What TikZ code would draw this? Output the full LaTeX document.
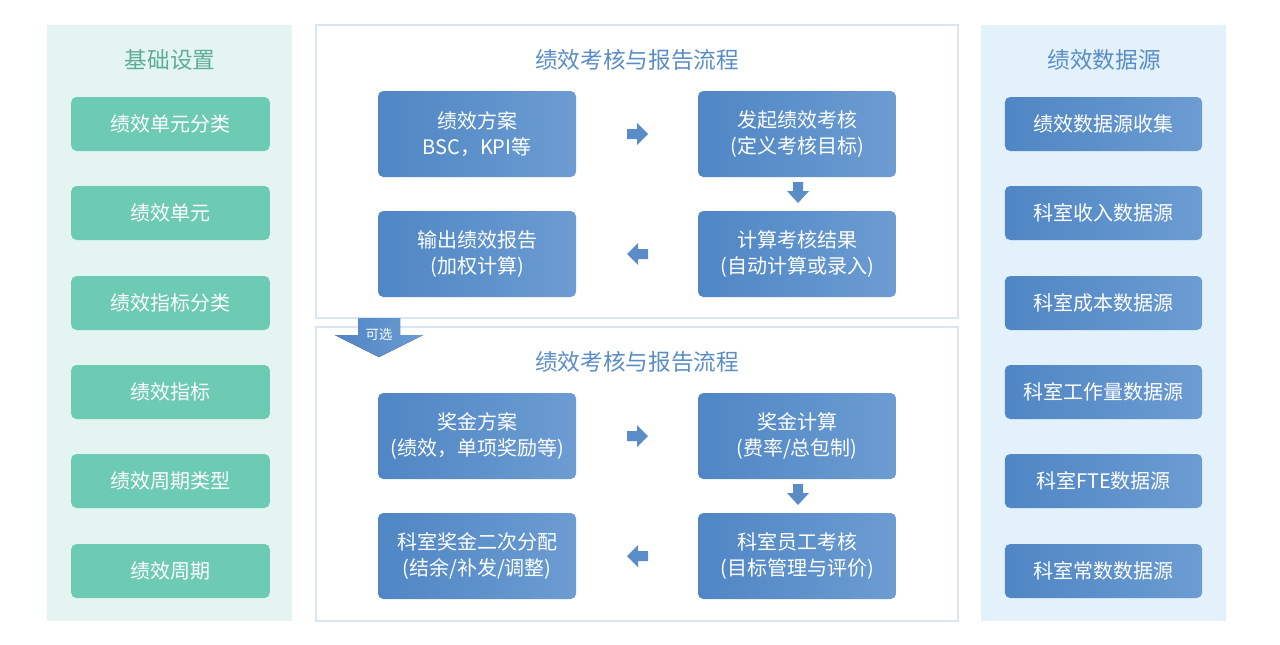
\documentclass[tikz,border=0pt]{standalone}
\usepackage{fontspec}
\newfontfamily\cjk{Noto Sans CJK SC}[Scale=1]
\begin{document}
\begin{tikzpicture}[x=0.75pt,y=-0.75pt,font=\cjk,
 gbox/.style={fill=grn,rounded corners=4pt,text=white,font=\cjk\fontsize{15}{18}\selectfont},
 bbox/.style={left color=bl1,right color=bl2,rounded corners=4pt,text=white,font=\cjk\fontsize{15}{20}\selectfont,align=center},
 ttl/.style={font=\cjk\fontsize{17}{20}\selectfont},
 sarrow/.style={fill=arr}]
\definecolor{grn}{HTML}{6CCBB2}
\definecolor{bl1}{HTML}{4F86C4}
\definecolor{bl2}{HTML}{6C9CD2}
\definecolor{arr}{HTML}{5A8DC8}
\definecolor{lgreen}{HTML}{E4F5F1}
\definecolor{lblue}{HTML}{E3F1FA}
\definecolor{pbord}{HTML}{DCE6F3}
\useasboundingbox (0,0) rectangle (1280,644);
\fill[white] (0,0) rectangle (1280,644);
% panels
\fill[lgreen] (47,25) rectangle (292,621);
\fill[lblue] (981,25) rectangle (1226,621);
\draw[pbord,line width=1pt] (316,25) rectangle (958,318);
\draw[pbord,line width=1pt] (316,327) rectangle (958,621);
\node[ttl,text=grn!85!black] (tl) at (170,60) {基础设置};
\node[ttl,text=arr] (tr) at (1104,60) {绩效数据源};
\node[ttl,text=arr] (tm1) at (637,60) {绩效考核与报告流程};
\node[ttl,text=arr] (tm2) at (637,362) {绩效考核与报告流程};
% left boxes
\foreach \y/\t [count=\i] in {124/绩效单元分类,213/绩效单元,303/绩效指标分类,392/绩效指标,481/绩效周期类型,571/绩效周期}
  \node[gbox,minimum width=149pt,minimum height=40.5pt] (g\i) at (170.5,\y) {\t};
\foreach \y/\t [count=\i] in {124/绩效数据源收集,213/科室收入数据源,303/科室成本数据源,392/科室工作量数据源,481/科室FTE数据源,571/科室常数数据源}
  \node[bbox,minimum width=148pt,minimum height=40.5pt] (r\i) at (1103.5,\y) {\t};
% middle boxes
\tikzset{mb/.style={bbox,minimum width=148.5pt,minimum height=64.5pt}}
\node[mb] (a1) at (477,134) {绩效方案\\BSC，KPI等};
\node[mb] (a2) at (797,134) {发起绩效考核\\(定义考核目标)};
\node[mb] (a3) at (797,254) {计算考核结果\\(自动计算或录入)};
\node[mb] (a4) at (477,254) {输出绩效报告\\(加权计算)};
\node[mb] (b1) at (477,436) {奖金方案\\(绩效，单项奖励等)};
\node[mb] (b2) at (797,436) {奖金计算\\(费率/总包制)};
\node[mb] (b3) at (797,556) {科室员工考核\\(目标管理与评价)};
\node[mb] (b4) at (477,556) {科室奖金二次分配\\(结余/补发/调整)};
% small arrows
\foreach \y in {134,436}{
 \fill[sarrow] (627,\y-5) -- (637,\y-5) -- (637,\y-11) -- (648,\y) -- (637,\y+11) -- (637,\y+5) -- (627,\y+5) -- cycle;
 \fill[sarrow] (648,\y+115) -- (638,\y+115) -- (638,\y+109) -- (627,\y+120) -- (638,\y+131) -- (638,\y+125) -- (648,\y+125) -- cycle;
 \fill[sarrow] (793,\y+48) -- (803,\y+48) -- (803,\y+57) -- (809,\y+57) -- (798,\y+69) -- (787,\y+57) -- (793,\y+57) -- cycle;
}
% optional arrow
\fill[left color=bl1,right color=bl2] (358,318) -- (400,318) -- (400,335) -- (423,335) -- (379,357) -- (335,335) -- (358,335) -- cycle;
\node[text=white,font=\cjk\fontsize{10}{12}\selectfont] (opt) at (379,334) {可选};
\end{tikzpicture}
\end{document}
